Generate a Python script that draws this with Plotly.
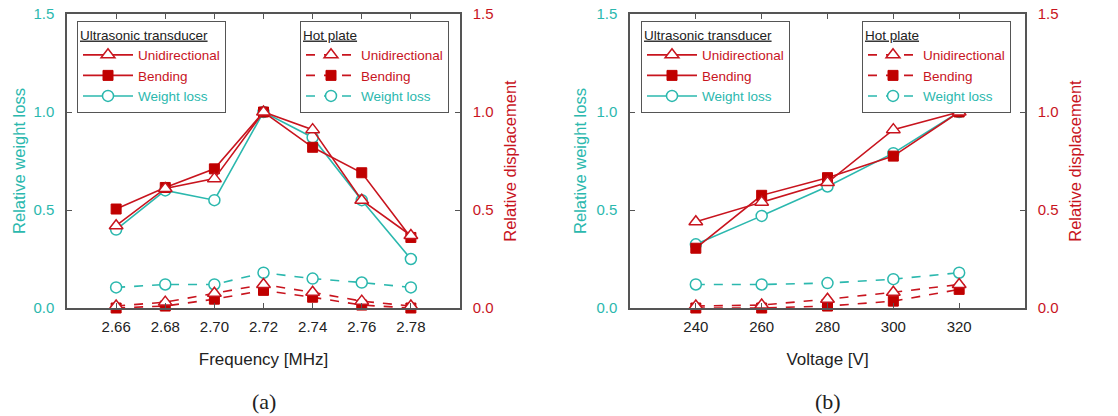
import plotly.graph_objects as go

# ---- data (a) frequency sweep ----
freq = [2.66, 2.68, 2.70, 2.72, 2.74, 2.76, 2.78]
us_uni_a = [0.42, 0.61, 0.66, 1.00, 0.91, 0.55, 0.37]
us_bend_a = [0.505, 0.615, 0.71, 1.00, 0.82, 0.69, 0.36]
us_wl_a = [0.40, 0.60, 0.55, 1.00, 0.87, 0.55, 0.25]
hp_uni_a = [0.01, 0.03, 0.075, 0.12, 0.08, 0.035, 0.01]
hp_bend_a = [0.0, 0.01, 0.045, 0.09, 0.055, 0.015, 0.0]
hp_wl_a = [0.105, 0.12, 0.12, 0.18, 0.15, 0.13, 0.105]

# ---- data (b) voltage sweep ----
volt = [240, 260, 280, 300, 320]
us_uni_b = [0.44, 0.54, 0.64, 0.91, 1.00]
us_bend_b = [0.305, 0.575, 0.665, 0.775, 1.00]
us_wl_b = [0.325, 0.47, 0.62, 0.79, 1.00]
hp_uni_b = [0.01, 0.015, 0.045, 0.08, 0.12]
hp_bend_b = [0.0, 0.0, 0.01, 0.035, 0.095]
hp_wl_b = [0.12, 0.12, 0.127, 0.147, 0.18]

yticks = [0.0, 0.5, 1.0, 1.5]

TEAL = "#2bb8ae"
RED = "#c8141e"
DRED = "#c00000"
AX = "#555555"
FONT = "Liberation Sans, Arial, sans-serif"

fig = go.Figure()


def add_set(x, uni, bend, wl, xa, ya_l, ya_r, dash, legend):
    common = dict(mode="lines+markers", xaxis=xa, legend=legend, cliponaxis=False)
    fig.add_trace(go.Scatter(
        x=x, y=wl, yaxis=ya_l,
        name=f'<span style="color:{TEAL}">Weight loss</span>',
        line=dict(color=TEAL, width=1.6, dash=dash),
        marker=dict(symbol="circle", size=11, color="white", line=dict(color=TEAL, width=1.5)),
        legendrank=3, **common))
    fig.add_trace(go.Scatter(
        x=x, y=bend, yaxis=ya_r,
        name=f'<span style="color:{RED}">Bending</span>',
        line=dict(color=RED, width=1.6, dash=dash),
        marker=dict(symbol="square", size=10, color=DRED, line=dict(color=DRED, width=1)),
        legendrank=2, **common))
    fig.add_trace(go.Scatter(
        x=x, y=uni, yaxis=ya_r,
        name=f'<span style="color:{RED}">Unidirectional</span>',
        line=dict(color=RED, width=1.6, dash=dash),
        marker=dict(symbol="triangle-up", size=12, color="white", line=dict(color=RED, width=1.5)),
        legendrank=1, **common))


add_set(freq, hp_uni_a, hp_bend_a, hp_wl_a, "x", "y", "y2", "dash", "legend2")
add_set(freq, us_uni_a, us_bend_a, us_wl_a, "x", "y", "y2", "solid", "legend")
add_set(volt, hp_uni_b, hp_bend_b, hp_wl_b, "x2", "y3", "y4", "dash", "legend4")
add_set(volt, us_uni_b, us_bend_b, us_wl_b, "x2", "y3", "y4", "solid", "legend3")

W, H = 1118, 416
dom_a = [67 / W, 460 / W]
dom_b = [630 / W, 1025 / W]

xcommon = dict(showline=True, linecolor=AX, linewidth=1.5, mirror="ticks",
               ticks="inside", ticklen=5, tickcolor=AX, showgrid=False, zeroline=False,
               ticklabelstandoff=4,
               tickfont=dict(size=15, color="#222222", family=FONT),
               title_font=dict(size=17, color="#222222", family=FONT), title_standoff=19)


def ycommon(color, standoff):
    return dict(range=[0, 1.5], tickvals=yticks, tickformat=".1f", showline=True,
                linecolor=AX, linewidth=1.5, ticks="inside", ticklen=5, tickcolor=AX,
                showgrid=False, zeroline=False, ticklabelstandoff=8,
                tickfont=dict(size=15, color=color, family=FONT),
                title_font=dict(size=16.5, color=color, family=FONT), title_standoff=standoff)


fig.update_layout(
    width=W, height=H,
    margin=dict(l=0, r=0, t=14, b=108),
    paper_bgcolor="white", plot_bgcolor="white",
    font=dict(family=FONT),
    xaxis=dict(domain=dom_a, range=[2.64, 2.80], tickvals=freq,
               ticktext=[f"{v:.2f}" for v in freq], title_text="Frequency [MHz]",
               anchor="y", **xcommon),
    xaxis2=dict(domain=dom_b, range=[220, 340], tickvals=volt,
                title_text="Voltage [V]", anchor="y3", **xcommon),
    yaxis=dict(anchor="x", title_text="Relative weight loss", **ycommon(TEAL, 4)),
    yaxis2=dict(anchor="x", overlaying="y", side="right",
                title_text="Relative displacement", **ycommon(RED, 12)),
    yaxis3=dict(anchor="x2", title_text="Relative weight loss", **ycommon(TEAL, 6)),
    yaxis4=dict(anchor="x2", overlaying="y3", side="right",
                title_text="Relative displacement", **ycommon(RED, 12)),
    showlegend=True,
)

legend_style = dict(bgcolor="white", bordercolor=AX, borderwidth=1,
                    font=dict(size=13.5, family=FONT), itemwidth=50,
                    xanchor="left", yanchor="top", tracegroupgap=0,
                    traceorder="normal", itemclick=False)
ytop = (308 - 21) / 294
TF = dict(size=13.5, color="#222222", family=FONT)
fig.update_layout(
    legend=dict(x=77 / W, y=ytop, title=dict(text="<u>Ultrasonic transducer</u>", font=TF),
                entrywidth=148, entrywidthmode="pixels", **legend_style),
    legend2=dict(x=300 / W, y=ytop, title=dict(text="<u>Hot plate</u>", font=TF), **legend_style),
    legend3=dict(x=641 / W, y=ytop, title=dict(text="<u>Ultrasonic transducer</u>", font=TF),
                 entrywidth=178, entrywidthmode="pixels", **legend_style),
    legend4=dict(x=862 / W, y=ytop, title=dict(text="<u>Hot plate</u>", font=TF), **legend_style),
)

ylab = (308 - 401) / 294
SERIF = dict(size=22, family="Liberation Serif, Times New Roman, serif", color="#222222")
fig.add_annotation(x=2.72, xref="x", y=ylab, yref="paper", yanchor="middle",
                   text="(a)", showarrow=False, font=SERIF)
fig.add_annotation(x=280, xref="x2", y=ylab, yref="paper", yanchor="middle",
                   text="(b)", showarrow=False, font=SERIF)

fig.write_html("out.html")
